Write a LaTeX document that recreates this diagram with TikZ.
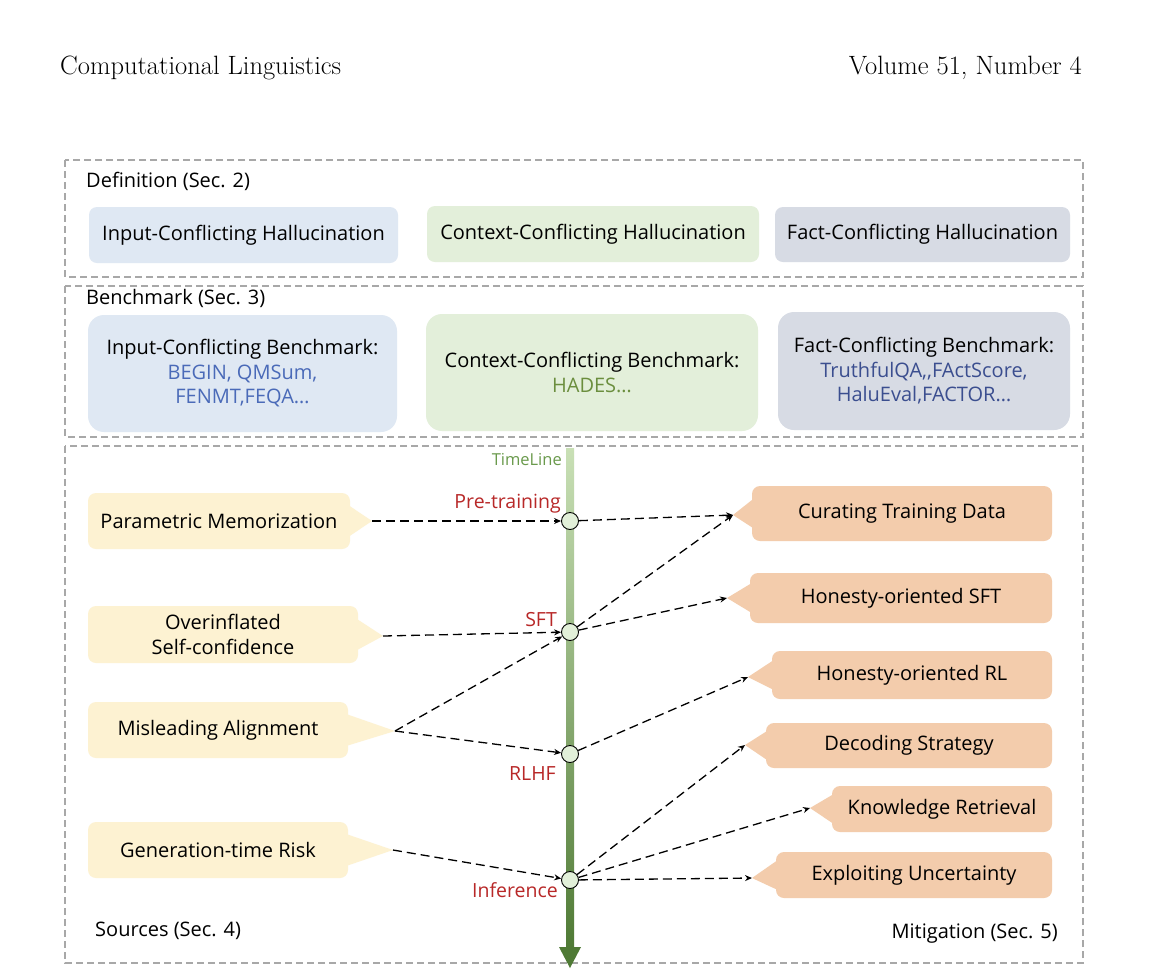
\documentclass[tikz,border=0pt]{standalone}
\usepackage{fontspec}
\newfontfamily\diag{Open Sans}
\usetikzlibrary{arrows.meta,calc}
\definecolor{frameGray}{HTML}{A8A8A8}
\definecolor{defBlue}{HTML}{DFE8F3}
\definecolor{defGreen}{HTML}{E3EFDA}
\definecolor{defGray}{HTML}{D7DBE4}
\definecolor{srcYellow}{HTML}{FDF2D2}
\definecolor{mitOrange}{HTML}{F3CCAC}
\definecolor{txtBlue}{HTML}{4A6AB8}
\definecolor{txtGreen}{HTML}{6B8E3E}
\definecolor{txtNavy}{HTML}{3B4E8F}
\definecolor{stageRed}{HTML}{B82828}
\definecolor{tlTop}{HTML}{C9E0B6}
\definecolor{tlBot}{HTML}{4F7A35}
\definecolor{tlText}{HTML}{6A9A4C}
\definecolor{circFill}{HTML}{E2F0D9}
\begin{document}
\begin{tikzpicture}[x=1pt,y=-1pt,
  frame/.style={draw=frameGray, line width=1.4pt, dash pattern=on 7pt off 4pt},
  txt/.style={font=\diag\fontsize{20}{24.5}\selectfont, text=black, align=center},
  seclabel/.style={font=\diag\fontsize{20}{24}\selectfont, inner sep=0pt},
  defbox/.style={txt, rounded corners=8pt, inner sep=0pt},
  benchbox/.style={txt, rounded corners=16pt, inner sep=0pt},
  srcbox/.style={txt, fill=srcYellow, rounded corners=8pt, inner sep=0pt},
  mitbox/.style={txt, fill=mitOrange, rounded corners=8pt, inner sep=0pt},
  stage/.style={circle, draw=black, line width=0.9pt, fill=circFill, minimum size=17pt, inner sep=0pt},
  stagelabel/.style={font=\diag\fontsize{19.5}{23}\selectfont, text=stageRed, inner sep=0pt},
  link/.style={draw=black, line width=1.3pt, dash pattern=on 9pt off 5pt, -{Stealth[length=7pt,width=6pt]}}
]
\useasboundingbox (0,0) rectangle (1150,978);
\fill[white] (0,0) rectangle (1150,978);

% header
\node[anchor=west, font=\fontsize{26.5}{30}\selectfont, inner sep=0pt] (hl) at (60,68) {Computational Linguistics};
\node[anchor=east, font=\fontsize{26.5}{30}\selectfont, inner sep=0pt] (hr) at (1082,68) {Volume 51, Number 4};

% frames
\draw[frame] (65,160) rectangle (1083,277);
\draw[frame] (65,286) rectangle (1083,437);
\draw[frame] (65,446) rectangle (1083,963);

% Definition
\node[seclabel, anchor=west] (deflab) at (86,181) {Definition (Sec. 2)};
\node[defbox, fill=defBlue, minimum width=309pt, minimum height=56pt] (d1) at (243.5,235) {Input-Conflicting Hallucination};
\node[defbox, fill=defGreen, minimum width=332pt, minimum height=56pt] (d2) at (593,234) {Context-Conflicting Hallucination};
\node[defbox, fill=defGray, minimum width=295pt, minimum height=55pt] (d3) at (922.5,234.5) {Fact-Conflicting Hallucination};

% Benchmark
\node[seclabel, anchor=west] (benlab) at (86,298) {Benchmark (Sec. 3)};
\node[benchbox, fill=defBlue, minimum width=309pt, minimum height=117pt] (b1) at (242.5,373.5)
  {Input-Conflicting Benchmark:\\\textcolor{txtBlue}{BEGIN, QMSum,}\\\textcolor{txtBlue}{FENMT,FEQA…}};
\node[benchbox, fill=defGreen, minimum width=332pt, minimum height=117pt] (b2) at (592,372.5)
  {Context-Conflicting Benchmark:\\\textcolor{txtGreen}{HADES…}};
\node[benchbox, fill=defGray, minimum width=292pt, minimum height=118pt] (b3) at (924,371)
  {Fact-Conflicting Benchmark:\\\textcolor{txtNavy}{TruthfulQA,,FActScore,}\\\textcolor{txtNavy}{HaluEval,FACTOR…}};

% timeline
\shade[top color=tlTop, bottom color=tlBot] (566,448) rectangle (574,950);
\fill[tlBot] (559,947) -- (581,947) -- (570,968) -- cycle;
\node[anchor=east, font=\diag\fontsize{16.5}{20}\selectfont, text=tlText, inner sep=0pt] (tl) at (562,460) {TimeLine};

% sources
\node[srcbox, minimum width=262pt, minimum height=56pt] (s1) at (219,521) {Parametric Memorization};
\node[srcbox, minimum width=270pt, minimum height=57pt] (s2) at (223,634.5) {Overinflated\\Self-confidence};
\node[srcbox, minimum width=260pt, minimum height=56pt] (s3) at (218,730) {Misleading Alignment};
\node[srcbox, minimum width=260pt, minimum height=56pt] (s4) at (218,850) {Generation-time Risk};
\coordinate (t1) at (372,521);
\coordinate (t2) at (383,636);
\coordinate (t3) at (395,731);
\coordinate (t4) at (393,850);
\foreach \s/\t in {s1/t1,s2/t2,s3/t3,s4/t4}{
  \fill[srcYellow] ($(\s.east)+(-2,-16)$) -- (\t) -- ($(\s.east)+(-2,16)$) -- cycle;
}

% mitigation
\node[mitbox, minimum width=300pt, minimum height=55pt] (m1) at (902,513.5) {Curating Training Data};
\node[mitbox, minimum width=302pt, minimum height=50pt] (m2) at (901,598) {Honesty-oriented SFT};
\node[mitbox, minimum width=280pt, minimum height=48pt] (m3) at (912,675) {Honesty-oriented RL};
\node[mitbox, minimum width=286pt, minimum height=45pt] (m4) at (909,745.5) {Decoding Strategy};
\node[mitbox, minimum width=220pt, minimum height=46pt] (m5) at (942,809) {Knowledge Retrieval};
\node[mitbox, minimum width=276pt, minimum height=46pt] (m6) at (914,875) {Exploiting Uncertainty};
\coordinate (u1) at (733,515);
\coordinate (u2) at (727,598);
\coordinate (u3) at (748,677);
\coordinate (u4) at (745,745);
\coordinate (u5) at (810,808);
\coordinate (u6) at (752,878);
\foreach \m/\u in {m1/u1,m2/u2,m3/u3,m4/u4,m5/u5,m6/u6}{
  \fill[mitOrange] ($(\m.west)+(2,-15)$) -- (\u) -- ($(\m.west)+(2,15)$) -- cycle;
}

% stages
\node[stage] (c1) at (570,521) {};
\node[stage] (c2) at (570,632) {};
\node[stage] (c3) at (570,754) {};
\node[stage] (c4) at (570,880) {};
\node[stagelabel, anchor=east] (l1) at (561,504) {Pre-training};
\node[stagelabel, anchor=east] (l2) at (557,620) {SFT};
\node[stagelabel, anchor=east] (l3) at (556,774) {RLHF};
\node[stagelabel, anchor=east] (l4) at (558,890) {Inference};

% connectors
\draw[link] (t1) -- (c1);
\draw[link] (t2) -- (c2);
\draw[link] (t3) -- (c2);
\draw[link] (t3) -- (c3);
\draw[link] (t4) -- (c4);
\draw[link] (c1) -- (u1);
\draw[link] (c2) -- (u1);
\draw[link] (c2) -- (u2);
\draw[link] (c3) -- (u3);
\draw[link] (c4) -- (u4);
\draw[link] (c4) -- (u5);
\draw[link] (c4) -- (u6);

% section labels bottom
\node[seclabel, anchor=west] (srclab) at (95,931) {Sources (Sec. 4)};
\node[seclabel, anchor=east] (mitlab) at (1058,934) {Mitigation (Sec. 5)};
\end{tikzpicture}
\end{document}
